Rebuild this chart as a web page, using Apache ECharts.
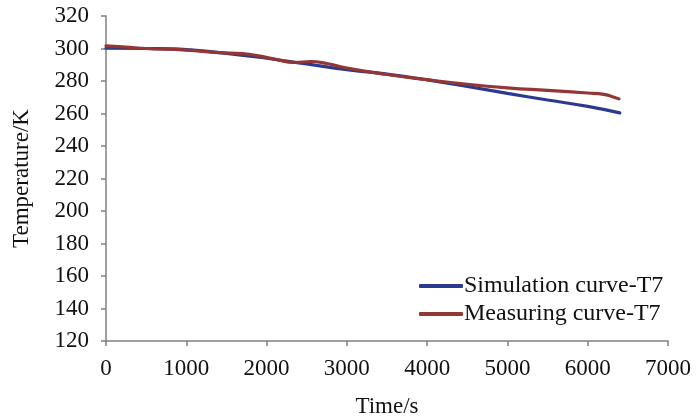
<!DOCTYPE html>
<html>
<head>
<meta charset="utf-8">
<script src="https://cdn.jsdelivr.net/npm/echarts@6/dist/echarts.min.js"></script>
<style>
  html, body { margin: 0; padding: 0; background: #fff; }
  #chart { width: 700px; height: 418px; }
</style>
</head>
<body>
<div id="chart"></div>
<script>
// time (s) and temperature (K)
var simTime = [0, 500, 800, 1000, 1500, 2000, 2500, 3000, 3500, 4000, 4500, 5000, 5500, 6000, 6400];
var simTemp = [300.2, 300, 299.8, 299.3, 297, 294, 290.5, 287, 284.2, 280.7, 276.6, 272.4, 268.3, 264.4, 260.4];

var measTime = [0, 250, 500, 1000, 1400, 1700, 1900, 2100, 2350, 2550, 2750, 3000, 3500, 4000, 4500, 5000, 5500, 6000, 6200, 6300, 6390];
var measTemp = [301.6, 300.8, 300, 299, 297.5, 296.8, 295.5, 293.5, 291.4, 292, 290.8, 288, 284, 280.8, 278, 275.8, 274.2, 272.6, 271.8, 270.5, 269];

var seriesNames = ['Simulation curve-T7', 'Measuring curve-T7'];

function pairs(xs, ys) {
  return xs.map(function (x, i) { return [x, ys[i]]; });
}

var font = '"Liberation Serif", "Times New Roman", serif';
var chart = echarts.init(document.getElementById('chart'));

var option = {
  animation: false,
  color: ['#2B3990', '#943634'],
  grid: {
    left: 106,
    right: 32,
    top: 16,
    bottom: 77,
    outerBoundsMode: 'none'
  },
  legend: {
    data: seriesNames,
    orient: 'vertical',
    left: 414,
    top: 269,
    icon: 'roundRect',
    itemWidth: 44,
    itemHeight: 4,
    itemGap: 4,
    textStyle: {
      fontFamily: font,
      fontSize: 24,
      color: '#111',
      padding: [0, 0, 0, -4]
    }
  },
  xAxis: {
    type: 'value',
    min: 0,
    max: 7000,
    interval: 1000,
    name: 'Time/s',
    nameLocation: 'middle',
    nameGap: 54,
    nameTextStyle: { fontFamily: font, fontSize: 23, color: '#111' },
    axisLine: { lineStyle: { color: '#808080', width: 1.5 } },
    axisTick: { show: true, length: 5, lineStyle: { color: '#808080', width: 1.5 } },
    axisLabel: {
      fontFamily: font, fontSize: 23, color: '#111', margin: 16,
      formatter: function (v) { return String(v); }
    },
    splitLine: { show: false }
  },
  yAxis: {
    type: 'value',
    min: 120,
    max: 320,
    interval: 20,
    name: 'Temperature/K',
    nameLocation: 'middle',
    nameGap: 73,
    nameTextStyle: { fontFamily: font, fontSize: 23, color: '#111' },
    axisLine: { show: true, lineStyle: { color: '#808080', width: 1.5 } },
    axisTick: { show: true, length: 5, lineStyle: { color: '#808080', width: 1.5 } },
    axisLabel: { fontFamily: font, fontSize: 23, color: '#111', margin: 17 },
    splitLine: { show: false }
  },
  series: [{
    name: seriesNames[0],
    type: 'line',
    smooth: true,
    symbol: 'none',
    lineStyle: { width: 3.2, cap: 'round' },
    data: pairs(simTime, simTemp)
  }, {
    name: seriesNames[1],
    type: 'line',
    smooth: true,
    symbol: 'none',
    lineStyle: { width: 3.2, cap: 'round' },
    data: pairs(measTime, measTemp)
  }]
};
chart.setOption(option);
</script>
</body>
</html>
